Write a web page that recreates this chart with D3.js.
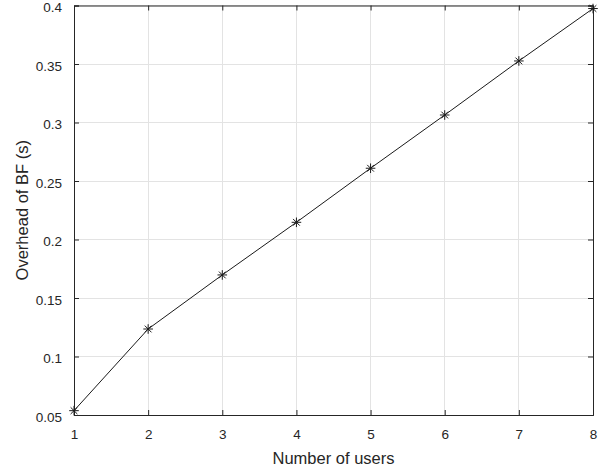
<!DOCTYPE html>
<html>
<head>
<meta charset="utf-8">
<script src="https://cdn.jsdelivr.net/npm/d3@7"></script>
<style>
  body { margin: 0; background: #fff; }
  svg { display: block; font-family: "Liberation Sans", Arial, sans-serif; }
</style>
</head>
<body>
<svg id="chart" width="609" height="469"></svg>
<script>
const users = [1, 2, 3, 4, 5, 6, 7, 8];
const overhead = [0.0537, 0.1235, 0.1697, 0.2147, 0.2609, 0.3064, 0.3526, 0.3974];
const xTicks = [1, 2, 3, 4, 5, 6, 7, 8];
const yTicks = [0.05, 0.1, 0.15, 0.2, 0.25, 0.3, 0.35, 0.4];

const data = users.map((u, i) => ({x: u, y: overhead[i]}));

const width = 609, height = 469;
const margin = {top: 5.5, right: 16, bottom: 54, left: 74};
const axisColor = "#262626";

const svg = d3.select("#chart");

const x = d3.scaleLinear()
    .domain([1, 8])
    .range([margin.left, width - margin.right]);
const y = d3.scaleLinear()
    .domain([0.05, 0.4])
    .range([height - margin.bottom, margin.top]);

// grid
const grid = svg.append("g")
    .attr("stroke", "#e3e3e3")
    .attr("stroke-width", 1)
    .attr("shape-rendering", "crispEdges");
grid.selectAll("line.gx")
    .data(xTicks)
    .join("line")
    .attr("class", "gx")
    .attr("x1", d => x(d)).attr("x2", d => x(d))
    .attr("y1", y.range()[1]).attr("y2", y.range()[0]);
grid.selectAll("line.gy")
    .data(yTicks)
    .join("line")
    .attr("class", "gy")
    .attr("y1", d => y(d)).attr("y2", d => y(d))
    .attr("x1", x.range()[0]).attr("x2", x.range()[1]);

// axes (MATLAB style, ticks inward, box on)
const fmtY = d => String(+d.toFixed(2));

const axBottom = svg.append("g")
    .attr("transform", `translate(0,${y.range()[0]})`)
    .call(d3.axisBottom(x).tickValues(xTicks).tickSize(-5).tickPadding(14).tickFormat(d3.format("d")));
const axTop = svg.append("g")
    .attr("transform", `translate(0,${y.range()[1]})`)
    .call(d3.axisTop(x).tickValues(xTicks).tickSize(-5).tickFormat(""));
const axLeft = svg.append("g")
    .attr("transform", `translate(${x.range()[0]},0)`)
    .call(d3.axisLeft(y).tickValues(yTicks).tickSize(-5).tickPadding(12).tickFormat(fmtY));
const axRight = svg.append("g")
    .attr("transform", `translate(${x.range()[1]},0)`)
    .call(d3.axisRight(y).tickValues(yTicks).tickSize(-5).tickFormat(""));

[axBottom, axTop, axLeft, axRight].forEach(g => {
    g.attr("font-family", null).attr("font-size", null);
    g.select(".domain").attr("stroke", axisColor).attr("stroke-width", 1);
    g.selectAll(".tick line").attr("stroke", axisColor);
    g.selectAll(".tick text")
        .attr("fill", axisColor)
        .attr("font-size", 13.5);
});
axLeft.selectAll(".tick text").attr("dy", "0.48em");

// line
const line = d3.line()
    .x(d => x(d.x))
    .y(d => y(d.y));

svg.append("path")
    .datum(data)
    .attr("fill", "none")
    .attr("stroke", "#1a1a1a")
    .attr("stroke-width", 1)
    .attr("d", line);

// asterisk markers
const r = 4.8;
const star = `M${-r},0H${r}M0,${-r}V${r}` +
    `M${-r * 0.7},${-r * 0.7}L${r * 0.7},${r * 0.7}` +
    `M${-r * 0.7},${r * 0.7}L${r * 0.7},${-r * 0.7}`;
svg.append("g")
    .attr("stroke", "#1a1a1a")
    .attr("stroke-width", 1)
    .attr("fill", "none")
    .selectAll("path")
    .data(data)
    .join("path")
    .attr("transform", d => `translate(${x(d.x)},${y(d.y)})`)
    .attr("d", star);

// labels
svg.append("text")
    .attr("x", (x.range()[0] + x.range()[1]) / 2)
    .attr("y", 464)
    .attr("text-anchor", "middle")
    .attr("font-size", 16.5)
    .attr("fill", axisColor)
    .text("Number of users");

svg.append("text")
    .attr("transform", `translate(28,${(y.range()[0] + y.range()[1]) / 2}) rotate(-90)`)
    .attr("text-anchor", "middle")
    .attr("font-size", 16.5)
    .attr("fill", axisColor)
    .text("Overhead of BF (s)");
</script>
</body>
</html>
